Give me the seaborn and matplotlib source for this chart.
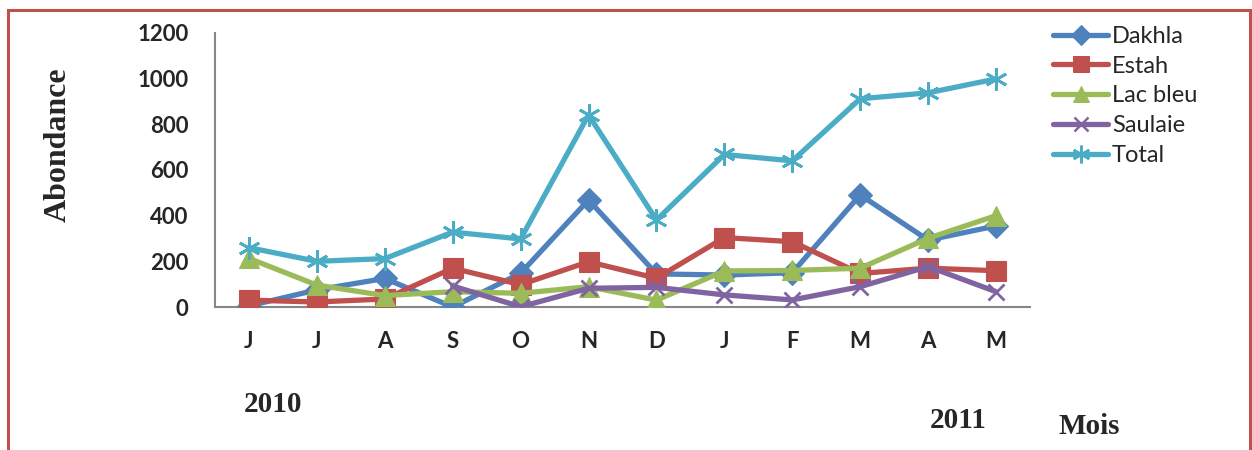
import numpy as np
import pandas as pd
import matplotlib
matplotlib.use("Agg")
import matplotlib.pyplot as plt
from matplotlib.lines import Line2D
from matplotlib.patches import Rectangle
import seaborn as sns

# Monthly abundance per site, June 2010 - May 2011
months = ["J", "J", "A", "S", "O", "N", "D", "J", "F", "M", "A", "M"]
dakhla = [5, 75, 125, 0, 148, 469, 145, 140, 150, 491, 293, 355]
estah = [30, 22, 35, 170, 98, 198, 126, 304, 286, 147, 170, 159]
lac_bleu = [213, 96, 50, 67, 60, 89, 30, 158, 160, 170, 301, 400]
saulaie = [np.nan, np.nan, np.nan, 92, 1, 82, 86, 53, 31, 89, 177, 67]
total = [260, 200, 212, 328, 298, 841, 381, 668, 640, 912, 938, 999]

series = ["Dakhla", "Estah", "Lac bleu", "Saulaie", "Total"]
values = [dakhla, estah, lac_bleu, saulaie, total]
colors = ["#4F81BD", "#C0504D", "#9BBB59", "#8064A2", "#4BACC6"]
markers = ["D", "s", "^", "x", (6, 2, 0)]
msizes = [12.5, 14, 14, 12, 16]
LW = 3.8


def edge_width(m):
    return 2.0 if (m == "x" or isinstance(m, tuple)) else 0.8


rows = []
for name, vals in zip(series, values):
    for i, v in enumerate(vals):
        rows.append({"pos": i, "value": v, "site": name})
df = pd.DataFrame(rows)

sns.set_style("white")
plt.rcParams["font.family"] = ["Lato", "DejaVu Sans"]

fig = plt.figure(figsize=(12.52, 4.5), dpi=100)
ax = fig.add_axes([215 / 1252, 1 - 307 / 450, 815 / 1252, 274 / 450])

for name, col, mk, ms in zip(series, colors, markers, msizes):
    sub = df[df["site"] == name].dropna()
    sns.lineplot(data=sub, x="pos", y="value", ax=ax, color=col, lw=LW,
                 marker=mk, markersize=ms, markeredgecolor=col,
                 markeredgewidth=edge_width(mk), legend=False, zorder=3)

ax.set_xlim(-0.5, 11.5)
ax.set_ylim(0, 1200)
ax.set_yticks(np.arange(0, 1201, 200))
ax.set_yticklabels([str(v) for v in range(0, 1201, 200)], fontsize=16, fontweight="bold")
ax.set_xticks(range(len(months)))
ax.set_xticklabels(months, fontsize=16, fontweight="bold")
ax.tick_params(axis="y", length=0, pad=19)
ax.tick_params(axis="x", length=0, pad=17)
ax.set_xlabel("")
ax.set_ylabel("")
for side in ("top", "right"):
    ax.spines[side].set_visible(False)
for side in ("left", "bottom"):
    ax.spines[side].set_color("#868686")
    ax.spines[side].set_linewidth(1.5)

handles = [Line2D([0], [0], color=c, lw=LW, marker=m, markersize=s * 0.8,
                  markeredgecolor=c, markeredgewidth=edge_width(m) * 0.9)
           for c, m, s in zip(colors, markers, msizes)]
fig.legend(handles, series, loc="upper left", bbox_to_anchor=(1053 / 1252, 1 - 26 / 450),
           frameon=False, fontsize=17, handlelength=2.35, handletextpad=0.15,
           labelspacing=0.37, borderaxespad=0, borderpad=0, numpoints=1)

serif = ["Liberation Serif", "DejaVu Serif"]
fig.text(58 / 1252, 1 - 145 / 450, "Abondance", rotation=90, ha="center", va="center",
         fontsize=23, fontweight="bold", family=serif)
fig.text(273 / 1252, 1 - 404 / 450, "2010", ha="center", va="center",
         fontsize=21, fontweight="bold", family=serif)
fig.text(958 / 1252, 1 - 420 / 450, "2011", ha="center", va="center",
         fontsize=21, fontweight="bold", family=serif)
fig.text(1089 / 1252, 1 - 426 / 450, "Mois", ha="center", va="center",
         fontsize=21, fontweight="bold", family=serif)

fig.patches.append(Rectangle((8 / 1252, -0.05), 1242 / 1252, 1.05 - 10 / 450,
                             transform=fig.transFigure, fill=False,
                             edgecolor="#C0504D", lw=2.2))

fig.savefig("out.png", dpi=100)
